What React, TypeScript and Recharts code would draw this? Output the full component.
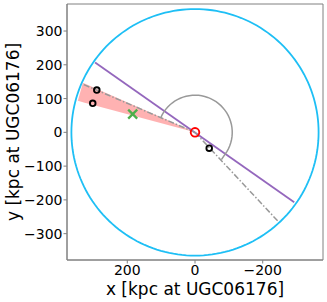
import React from "react"
import {
  ComposedChart,
  Line,
  Area,
  Scatter,
  XAxis,
  YAxis,
  ReferenceArea,
} from "recharts"

// axis setup
const xDomain = [-378, 378]
const yDomain = [-378, 380]
const xTicks = [200, 0, -200]
const yTicks = [-300, -200, -100, 0, 100, 200, 300]

// geometry (kpc)
const circleRadius = 365
const arcRadius = 110
const arcStartDeg = 23.2
const arcEndDeg = 216
const arcHook = [{ x: -78, y: -80.6 }]

const purpleLine = [
  { x: 295, y: 207 },
  { x: -293, y: -207 },
]
const grayRayA = [
  { x: 0, y: 0 },
  { x: 330, y: 142 },
]
const grayRayB = [
  { x: 0, y: 0 },
  { x: -244, y: -262 },
]
// shaded wedge: [lower, upper] at each x
const wedge = [
  { x: 0, y: [0, 0] },
  { x: 331, y: [89.3, 146.7] },
  { x: 346, y: [93.5, 93.5] },
]
const blackPoints = [
  { x: 290, y: 125 },
  { x: 302, y: 86 },
  { x: -42, y: -47 },
]
const greenCross = [{ x: 184, y: 54 }]
const centre = [{ x: 0, y: 0 }]

const circle = Array.from({ length: 181 }, (_, i) => {
  const a = (i * 2 * Math.PI) / 180
  return { x: circleRadius * Math.cos(a), y: circleRadius * Math.sin(a) }
})

const arc = [
  ...Array.from({ length: 41 }, (_, i) => {
    const d = arcStartDeg + ((arcEndDeg - arcStartDeg) * i) / 40
    const a = (d * Math.PI) / 180
    return { x: arcRadius * Math.cos(a), y: arcRadius * Math.sin(a) }
  }),
  ...arcHook,
]

const font = "DejaVu Sans"
const axisGray = "#808080"
const fmt = (v: number) => String(v).replace("-", "\u2212")

const OpenDot = (props: any) => (
  <circle cx={props.cx} cy={props.cy} r={2.8} fill="none" stroke="#000" strokeWidth={1.9} />
)
const RedRing = (props: any) => (
  <circle cx={props.cx} cy={props.cy} r={4.3} fill="none" stroke="#ff0000" strokeWidth={1.9} />
)
const Cross = (props: any) => {
  const { cx, cy } = props
  const s = 4.5
  return (
    <g stroke="#4daf4a" strokeWidth={2.3}>
      <line x1={cx - s} y1={cy - s} x2={cx + s} y2={cy + s} />
      <line x1={cx - s} y1={cy + s} x2={cx + s} y2={cy - s} />
    </g>
  )
}

export default function App() {
  return (
    <div style={{ position: "absolute", left: 0, top: 0 }}>
      <ComposedChart
        width={327}
        height={302}
        margin={{ top: 4, right: 4, left: 0, bottom: 0 }}
      >
        <XAxis
          dataKey="x"
          type="number"
          domain={xDomain}
          allowDataOverflow
          reversed
          ticks={xTicks}
          tickFormatter={fmt}
          height={42}
          tickSize={3.5}
          tickMargin={2}
          stroke={axisGray}
          tick={{ fill: "#000", fontSize: 14, fontFamily: font }}
          label={{
            value: "x [kpc at UGC06176]",
            position: "insideBottom",
            offset: 7.5,
            fill: "#000",
            fontSize: 17,
            fontFamily: font,
          }}
        />
        <YAxis
          dataKey="y"
          type="number"
          domain={yDomain}
          allowDataOverflow
          ticks={yTicks}
          tickFormatter={fmt}
          width={67}
          tickSize={3.5}
          tickMargin={1}
          stroke={axisGray}
          tick={{ fill: "#000", fontSize: 14, fontFamily: font }}
          label={{
            value: "y [kpc at UGC06176]",
            angle: -90,
            position: "insideLeft",
            offset: 13,
            textAnchor: "middle",
            fill: "#000",
            fontSize: 17,
            fontFamily: font,
          }}
        />
        <ReferenceArea
          x1={xDomain[0]}
          x2={xDomain[1]}
          y1={yDomain[0]}
          y2={yDomain[1]}
          fill="none"
          stroke={axisGray}
          strokeWidth={1}
        />
        <Line data={circle} dataKey="y" stroke="#1ebff5" strokeWidth={1.8} dot={false} isAnimationActive={false} />
        <Area
          data={wedge}
          dataKey="y"
          type="linear"
          stroke="none"
          fill="#ff0000"
          fillOpacity={0.3}
          isAnimationActive={false}
        />
        <Line data={purpleLine} dataKey="y" stroke="#9467bd" strokeWidth={1.8} dot={false} isAnimationActive={false} />
        <Line
          data={grayRayA}
          dataKey="y"
          stroke="#999"
          strokeWidth={1.5}
          strokeDasharray="6 2 1.5 2"
          dot={false}
          isAnimationActive={false}
        />
        <Line
          data={grayRayB}
          dataKey="y"
          stroke="#999"
          strokeWidth={1.5}
          strokeDasharray="6 2 1.5 2"
          dot={false}
          isAnimationActive={false}
        />
        <Line data={arc} dataKey="y" stroke="#999" strokeWidth={1.5} dot={false} isAnimationActive={false} />
        <Scatter data={blackPoints} dataKey="y" shape={OpenDot} isAnimationActive={false} />
        <Scatter data={greenCross} dataKey="y" shape={Cross} isAnimationActive={false} />
        <Scatter data={centre} dataKey="y" shape={RedRing} isAnimationActive={false} />
      </ComposedChart>
    </div>
  )
}
